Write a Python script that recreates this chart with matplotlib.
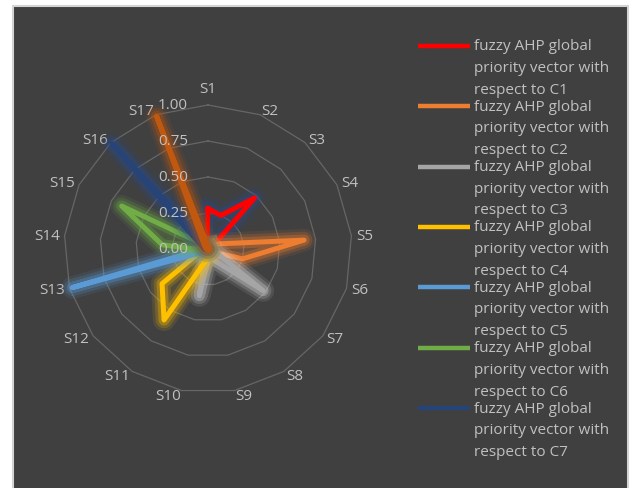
import numpy as np
import matplotlib.pyplot as plt
import matplotlib.patheffects as pe
from matplotlib.patches import Rectangle
from matplotlib.lines import Line2D
from matplotlib.transforms import offset_copy
import textwrap

plt.rcParams['font.family'] = ['Open Sans', 'DejaVu Sans']

categories = ["S%d" % i for i in range(1, 18)]
ticks = [0.0, 0.25, 0.5, 0.75, 1.0]

c1 = [0.28, 0.25, 0.48, 0.03, 0.02, 0.02, 0.01, 0.01, 0.01, 0.01, 0.01, 0.01, 0.01, 0.01, 0.01, 0.01, 0.02]
c2 = [0.02, 0.02, 0.03, 0.08, 0.67, 0.25, 0.03, 0.02, 0.01, 0.01, 0.01, 0.01, 0.01, 0.01, 0.01, 0.01, 0.01]
c3 = [0.01, 0.01, 0.01, 0.02, 0.03, 0.04, 0.48, 0.10, 0.05, 0.33, 0.03, 0.01, 0.01, 0.01, 0.01, 0.01, 0.01]
c4 = [0.01, 0.01, 0.01, 0.01, 0.01, 0.01, 0.02, 0.03, 0.05, 0.08, 0.58, 0.40, 0.05, 0.01, 0.01, 0.01, 0.01]
c5 = [0.01, 0.01, 0.01, 0.01, 0.01, 0.01, 0.01, 0.01, 0.01, 0.02, 0.02, 0.03, 0.98, 0.03, 0.01, 0.01, 0.01]
c6 = [0.01, 0.01, 0.01, 0.01, 0.01, 0.01, 0.01, 0.01, 0.01, 0.01, 0.01, 0.02, 0.03, 0.32, 0.67, 0.04, 0.01]
c7 = [0.01, 0.01, 0.01, 0.01, 0.01, 0.01, 0.01, 0.01, 0.01, 0.01, 0.01, 0.01, 0.02, 0.03, 0.05, 0.99, 0.03]
c8 = [0.02, 0.01, 0.01, 0.01, 0.01, 0.01, 0.01, 0.01, 0.01, 0.01, 0.01, 0.01, 0.01, 0.01, 0.02, 0.04, 0.99]

series = [c1, c2, c3, c4, c5, c6, c7, c8]
names = ["fuzzy AHP global priority vector with respect to C%d" % i for i in range(1, 8)] + [None]
colors = ['#ff0000', '#ed7d31', '#a5a5a5', '#ffc000', '#5b9bd5', '#70ad47', '#264478', '#c0580f']
glows = ['#2a4a8a', '#ed7d31', '#e0e0e0', '#ffc000', '#5b9bd5', '#70ad47', '#2a4a8a', '#c0580f']

W, H = 630, 489
fig = plt.figure(figsize=(W / 100, H / 100), dpi=100)
fig.patch.set_facecolor('white')
fig.add_artist(Rectangle((13 / W, -0.01), 615 / W, 482 / H + 0.01, transform=fig.transFigure,
                         facecolor='#404040', edgecolor='#d4d4d4', lw=1.5, zorder=-10))

ax = fig.add_axes([64 / W, 95 / H, 288 / W, 288 / H], projection='polar')
ax.set_theta_zero_location('N')
ax.set_theta_direction(-1)
ax.patch.set_alpha(0)
ax.spines['polar'].set_visible(False)
ax.grid(False)
ax.set_xticks([])
ax.set_yticks([])
ax.set_ylim(0, 1)

n = len(categories)
ang = np.linspace(0, 2 * np.pi, n, endpoint=False)
ang_c = np.append(ang, ang[0])

for lv in ticks[1:]:
    ax.plot(ang_c, [lv] * (n + 1), color='#666666', lw=0.9, clip_on=False, zorder=1)

txt = '#c0c0c0'
for lv in ticks:
    tr = offset_copy(ax.transData, fig=fig, x=-20, y=0, units='dots')
    ax.text(0, lv, "%.2f" % lv, transform=tr, ha='right', va='center', color=txt, fontsize=11, zorder=5)

for a, lab in zip(ang, categories):
    s = np.sin(a)
    if s > 0.01:
        ha, dy = 'left', 0
    elif s < -0.01:
        ha, dy = 'right', 0
    else:
        ha, dy = 'center', 12
    tr = offset_copy(ax.transData, fig=fig, x=0, y=dy, units='dots')
    ax.text(a, 1.032, lab, transform=tr, ha=ha, va='center', color=txt, fontsize=11, clip_on=False)

for vals, col, gl in zip(series, colors, glows):
    v = np.append(vals, vals[0])
    ax.plot(ang_c, v, color=col, lw=3.6, solid_joinstyle='round', clip_on=False, zorder=3,
            path_effects=[pe.Stroke(linewidth=16, foreground=gl, alpha=0.1, joinstyle='round'),
                          pe.Stroke(linewidth=12, foreground=gl, alpha=0.18, joinstyle='round'),
                          pe.Stroke(linewidth=8, foreground=gl, alpha=0.3, joinstyle='round'),
                          pe.Normal()])

# legend
y0, step, lstep = 46.7, 60.4, 21.7
for i, (nm, col) in enumerate(zip(names, colors)):
    if nm is None:
        continue
    y = y0 + i * step
    fig.add_artist(Line2D([418 / W, 470 / W], [1 - y / H, 1 - y / H], transform=fig.transFigure,
                          color=col, lw=3.2, solid_capstyle='butt'))
    for k, line in enumerate(textwrap.wrap(nm, 20)):
        fig.text(474 / W, 1 - (y + k * lstep) / H, line, ha='left', va='center', color=txt, fontsize=11)

fig.savefig('out.png', dpi=100)
